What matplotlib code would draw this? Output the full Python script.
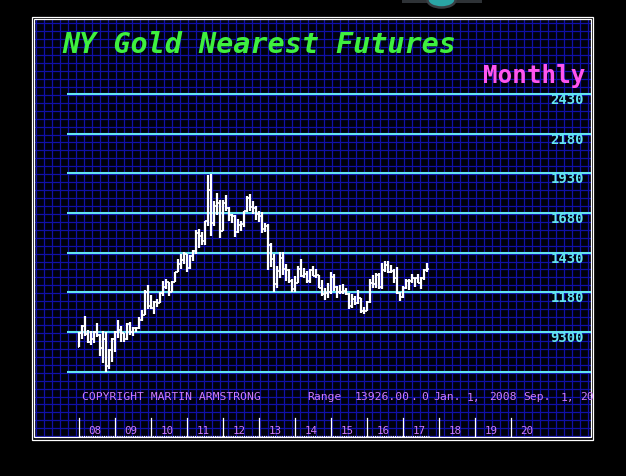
"""
NY Gold Nearest Futures - monthly bar chart, retro terminal look
"""

import matplotlib
matplotlib.use('Agg')
import matplotlib.pyplot as plt
from matplotlib.patches import Rectangle, Ellipse

# Monthly OHLC, Jan 2008 .. Sep 2017
OPEN = [838, 923, 971, 917, 865, 885, 928, 912, 829, 884, 717, 818,
        884, 928, 942, 922, 884, 979, 927, 955, 955, 1008, 1040, 1180,
        1096, 1081, 1118, 1113, 1179, 1213, 1244, 1181, 1248, 1308, 1358, 1386,
        1421, 1333, 1411, 1439, 1556, 1536, 1502, 1628, 1828, 1620, 1725, 1746,
        1566, 1740, 1711, 1669, 1664, 1562, 1604, 1611, 1691, 1773, 1719, 1714,
        1676, 1664, 1578, 1597, 1476, 1392, 1234, 1312, 1396, 1327, 1323, 1250,
        1202, 1240, 1326, 1284, 1296, 1250, 1322, 1282, 1287, 1210, 1171, 1175,
        1184, 1279, 1213, 1183, 1182, 1190, 1172, 1095, 1135, 1114, 1142, 1065,
        1061, 1118, 1238, 1234, 1292, 1215, 1322, 1351, 1309, 1316, 1273, 1173,
        1151, 1210, 1253, 1249, 1269, 1268, 1242, 1269, 1322]
HIGH = [933, 975, 1033, 944, 938, 935, 988, 919, 935, 930, 825, 890,
        935, 1007, 965, 925, 985, 990, 960, 964, 1025, 1070, 1195, 1227,
        1163, 1128, 1135, 1180, 1250, 1265, 1245, 1250, 1310, 1388, 1424, 1432,
        1424, 1413, 1448, 1575, 1577, 1560, 1632, 1917, 1923, 1758, 1804, 1764,
        1763, 1792, 1718, 1676, 1667, 1640, 1627, 1692, 1790, 1798, 1755, 1727,
        1695, 1684, 1617, 1612, 1488, 1424, 1348, 1434, 1434, 1361, 1325, 1267,
        1280, 1345, 1392, 1331, 1315, 1326, 1345, 1325, 1290, 1255, 1208, 1240,
        1307, 1296, 1220, 1225, 1232, 1205, 1175, 1170, 1157, 1192, 1145, 1088,
        1127, 1263, 1287, 1304, 1305, 1362, 1377, 1375, 1353, 1327, 1338, 1182,
        1220, 1264, 1262, 1297, 1272, 1297, 1275, 1327, 1362]
LOW = [835, 886, 906, 860, 850, 860, 900, 776, 735, 681, 700, 743,
       802, 890, 865, 865, 880, 910, 905, 930, 950, 1000, 1035, 1075,
       1073, 1045, 1088, 1110, 1160, 1200, 1155, 1180, 1243, 1307, 1330, 1360,
       1308, 1325, 1380, 1420, 1462, 1478, 1480, 1600, 1535, 1600, 1670, 1523,
       1564, 1690, 1627, 1615, 1527, 1553, 1565, 1590, 1687, 1692, 1672, 1636,
       1626, 1555, 1563, 1321, 1338, 1180, 1208, 1271, 1291, 1251, 1241, 1180,
       1182, 1238, 1277, 1268, 1240, 1240, 1281, 1273, 1205, 1160, 1131, 1142,
       1167, 1191, 1142, 1170, 1168, 1162, 1077, 1080, 1098, 1106, 1052, 1046,
       1061, 1111, 1208, 1207, 1200, 1200, 1310, 1302, 1305, 1241, 1171, 1124,
       1146, 1200, 1194, 1240, 1214, 1238, 1204, 1258, 1310]
CLOSE = [923, 971, 917, 865, 885, 928, 912, 829, 884, 717, 818, 884,
         928, 942, 922, 884, 979, 927, 955, 955, 1008, 1040, 1180, 1096,
         1081, 1118, 1113, 1179, 1213, 1244, 1181, 1248, 1308, 1358, 1386, 1421,
         1333, 1411, 1439, 1556, 1536, 1502, 1628, 1828, 1620, 1725, 1746, 1566,
         1740, 1711, 1669, 1664, 1562, 1604, 1611, 1691, 1773, 1719, 1714, 1676,
         1664, 1578, 1597, 1476, 1392, 1234, 1312, 1396, 1327, 1323, 1250, 1202,
         1240, 1326, 1284, 1296, 1250, 1322, 1282, 1287, 1210, 1171, 1175, 1184,
         1279, 1213, 1183, 1182, 1190, 1172, 1095, 1135, 1114, 1142, 1065, 1061,
         1118, 1238, 1234, 1292, 1215, 1322, 1351, 1309, 1316, 1273, 1173, 1151,
         1210, 1253, 1249, 1269, 1268, 1242, 1269, 1322, 1325]

# horizontal reference levels and their labels (chart prints 930 as "9300")
LEVELS = [2430, 2180, 1930, 1680, 1430, 1180, 930, 680]
LEVEL_LABELS = ['2430', '2180', '1930', '1680', '1430', '1180', '9300', '']

YEAR_LABELS = ['08', '09', '10', '11', '12', '13', '14', '15', '16', '17', '18', '19', '20']

FOOTER = [('COPYRIGHT MARTIN ARMSTRONG', 81.5), ('Range', 307), ('13926.00', 354.5),
          ('.', 410), ('0', 421), ('Jan.', 433), ('1,', 467), ('2008', 489),
          ('Sep.', 523), ('1,', 561), ('20', 580)]

COLORS = {
    'bg': 'black',
    'panel': '#00000c',
    'grid': '#1010a8',
    'frame': 'white',
    'level': '#62e4f0',
    'title': '#3ef03e',
    'monthly': '#ff55ee',
    'footer': '#cf7cff',
    'bars': 'white',
}

MONO = 'DejaVu Sans Mono'

W, H = 626, 476
# pixel geometry of the panel
IN_L, IN_R, IN_T, IN_B = 34.3, 591.0, 19.3, 437.0
X0_PX, PX_PER_MONTH = 79.3, 3.0           # Jan 2008 position, month spacing
Y_REF_PX, Y_REF, PRICE_PER_PX = 94.0, 2430, 6.302


def px_to_month(x):
    return (x - X0_PX) / PX_PER_MONTH


def px_to_price(y):
    return Y_REF - (y - Y_REF_PX) * PRICE_PER_PX


def create_chart():
    fig = plt.figure(figsize=(W / 100, H / 100), dpi=100, facecolor=COLORS['bg'])

    # background axes in pixel coords: frame, grid, titles
    bg = fig.add_axes([0, 0, 1, 1])
    bg.set_xlim(0, W)
    bg.set_ylim(H, 0)
    bg.axis('off')
    bg.set_facecolor(COLORS['bg'])

    bg.add_patch(Rectangle((IN_L, IN_T), IN_R - IN_L, IN_B - IN_T,
                           facecolor=COLORS['panel'], edgecolor='none', zorder=0))

    # blue grid
    x = 35.7
    while x < IN_R:
        bg.plot([x, x], [IN_T, IN_B], color=COLORS['grid'], lw=0.9, zorder=1)
        x += 8.0
    step = 39.7 / 5
    y = Y_REF_PX + 0.8
    while y - step > IN_T:
        y -= step
    while y < IN_B:
        bg.plot([IN_L, IN_R], [y, y], color=COLORS['grid'], lw=0.9, zorder=1)
        y += step

    # double white frame
    bg.add_patch(Rectangle((31.7, 17.3), 593.3 - 31.7, 439.5 - 17.3,
                           fill=False, edgecolor=COLORS['frame'], lw=0.9, zorder=5))
    bg.add_patch(Rectangle((IN_L, IN_T), IN_R - IN_L, IN_B - IN_T,
                           fill=False, edgecolor=COLORS['frame'], lw=0.9, zorder=5))

    # small widget peeking at the top
    bg.add_patch(Rectangle((402, -1), 80, 3.5, facecolor='#2e3236', edgecolor='none', zorder=3))
    bg.add_patch(Ellipse((441.5, 0), 28, 15, facecolor='#2aa5a5', edgecolor='#3a3f44',
                         lw=1.8, zorder=4))

    # titles
    bg.text(62, 45, 'NY Gold Nearest Futures', ha='left', va='center',
            fontsize=20.5, family=MONO, fontweight='bold', style='italic',
            color=COLORS['title'], zorder=6)
    bg.text(585, 83, 'Monthly', ha='right', va='baseline',
            fontsize=17.5, family=MONO, fontweight='bold',
            color=COLORS['monthly'], zorder=6)

    # footer text, clipped at the inner frame
    clip = Rectangle((IN_L, IN_T), IN_R - IN_L, IN_B - IN_T, transform=bg.transData)
    for txt, xp in FOOTER:
        t = bg.text(xp, 397.5, txt, ha='left', va='center', fontsize=8.2,
                    family=MONO, color=COLORS['footer'], zorder=6)
        t.set_clip_path(clip)

    # data axes laid over the panel
    ax = fig.add_axes([IN_L / W, (H - IN_B) / H, (IN_R - IN_L) / W, (IN_B - IN_T) / H])
    ax.set_facecolor('none')
    ax.set_xlim(px_to_month(IN_L), px_to_month(IN_R))
    ax.set_ylim(px_to_price(IN_B), px_to_price(IN_T))
    ax.axis('off')

    # cyan level lines with labels
    x_start = px_to_month(67)
    x_end = px_to_month(IN_R)
    for lev, lab in zip(LEVELS, LEVEL_LABELS):
        ax.plot([x_start, x_end], [lev, lev], color=COLORS['level'], lw=1.5,
                solid_capstyle='butt', zorder=3)
        if lab:
            ax.annotate(lab, xy=(px_to_month(584), lev), xytext=(0, -4.4),
                        textcoords='offset points', ha='right', va='center',
                        fontsize=10, family=MONO, fontweight='bold',
                        color=COLORS['level'], zorder=4)

    # OHLC bars
    months = list(range(len(HIGH)))
    ax.vlines(months, LOW, HIGH, color=COLORS['bars'], lw=1.6, zorder=5)
    ax.hlines(OPEN, [m - 0.5 for m in months], months, color=COLORS['bars'], lw=1.3, zorder=5)
    ax.hlines(CLOSE, months, [m + 0.5 for m in months], color=COLORS['bars'], lw=1.3, zorder=5)

    # year ticks along the bottom
    tick_top = px_to_price(418)
    tick_bot = px_to_price(IN_B)
    for i, lab in enumerate(YEAR_LABELS):
        m = i * 12
        ax.plot([m, m], [tick_bot, tick_top], color='white', lw=0.9, zorder=4)
        ax.text(m + 3, px_to_price(431), lab, ha='left', va='center',
                fontsize=7.8, family=MONO, color=COLORS['footer'], zorder=4)

    # dotted span of the data at the very bottom
    ax.plot([0, len(HIGH)], [px_to_price(436), px_to_price(436)], color='white',
            lw=0.8, linestyle=(0, (1, 1)), zorder=4)

    fig.savefig('out.png', dpi=100, facecolor=COLORS['bg'])
    plt.close(fig)


if __name__ == "__main__":
    create_chart()
